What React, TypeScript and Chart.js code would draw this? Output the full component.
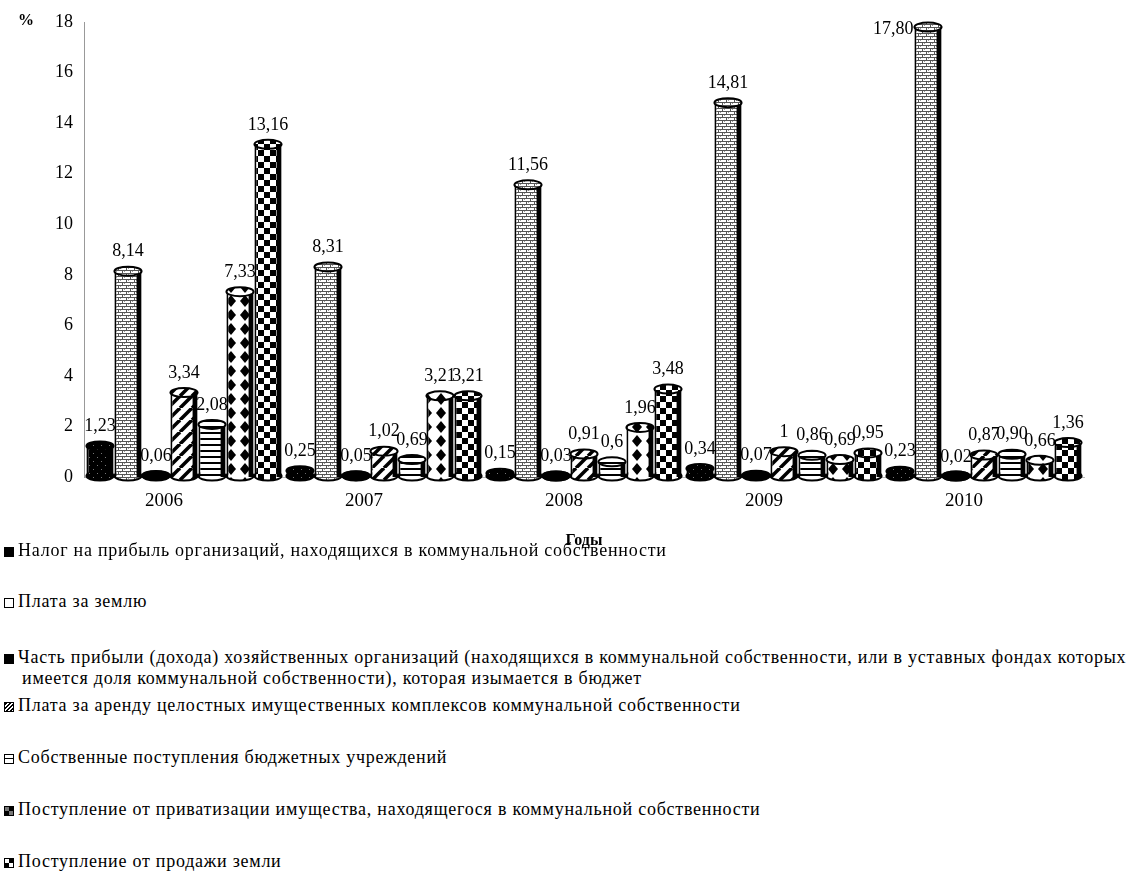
import React, { useEffect, useRef } from "react";
import { Chart, registerables } from "chart.js";

Chart.register(...registerables);

const years = ["2006", "2007", "2008", "2009", "2010"];
const yTicks = [0, 2, 4, 6, 8, 10, 12, 14, 16, 18];

const seriesNames = [
  "Налог на прибыль организаций, находящихся в коммунальной собственности",
  "Плата  за землю",
  "Часть прибыли (дохода) хозяйственных организаций (находящихся в коммунальной собственности, или в уставных фондах которых имеется доля коммунальной собственности), которая изымается в бюджет",
  "Плата за аренду  целостных имущественных комплексов коммунальной собственности",
  "Собственные поступления бюджетных учреждений",
  "Поступление от приватизации имущества, находящегося в коммунальной собственности",
  "Поступление от продажи земли",
];

const profitTax = [1.23, 0.25, 0.15, 0.34, 0.23];
const landFee = [8.14, 8.31, 11.56, 14.81, 17.8];
const profitShare = [0.06, 0.05, 0.03, 0.07, 0.02];
const rentFee = [3.34, 1.02, 0.91, 1, 0.87];
const ownRevenue = [2.08, 0.69, 0.6, 0.86, 0.9];
const privatization = [7.33, 3.21, 1.96, 0.69, 0.66];
const landSale = [13.16, 3.21, 3.48, 0.95, 1.36];

const profitTaxLabels = ["1,23", "0,25", "0,15", "0,34", "0,23"];
const landFeeLabels = ["8,14", "8,31", "11,56", "14,81", "17,80"];
const profitShareLabels = ["0,06", "0,05", "0,03", "0,07", "0,02"];
const rentFeeLabels = ["3,34", "1,02", "0,91", "1", "0,87"];
const ownRevenueLabels = ["2,08", "0,69", "0,6", "0,86", "0,90"];
const privatizationLabels = ["7,33", "3,21", "1,96", "0,69", "0,66"];
const landSaleLabels = ["13,16", "3,21", "3,48", "0,95", "1,36"];

const seriesValues = [profitTax, landFee, profitShare, rentFee, ownRevenue, privatization, landSale];
const seriesLabels = [
  profitTaxLabels,
  landFeeLabels,
  profitShareLabels,
  rentFeeLabels,
  ownRevenueLabels,
  privatizationLabels,
  landSaleLabels,
];

const FONT = "'Liberation Serif', 'Times New Roman', serif";
const CAP_RY = 4.5;

type PatternKind = "dots" | "bricks" | "solid" | "diag" | "hstripes" | "diamonds" | "checker";
const patternKinds: PatternKind[] = ["dots", "bricks", "solid", "diag", "hstripes", "diamonds", "checker"];

function drawPatternTile(kind: PatternKind): HTMLCanvasElement {
  const c = document.createElement("canvas");
  const ctx = c.getContext("2d")!;
  if (kind === "dots") {
    c.width = 8; c.height = 8;
    ctx.fillStyle = "#000"; ctx.fillRect(0, 0, 8, 8);
    ctx.fillStyle = "#777"; ctx.fillRect(1, 1, 1, 1); ctx.fillRect(5, 5, 1, 1);
  } else if (kind === "bricks") {
    c.width = 8; c.height = 6;
    ctx.fillStyle = "#fff"; ctx.fillRect(0, 0, 8, 6);
    ctx.fillStyle = "#555";
    ctx.fillRect(0, 0, 8, 1); ctx.fillRect(0, 3, 8, 1);
    ctx.fillRect(2, 0, 1, 3); ctx.fillRect(6, 3, 1, 3);
    ctx.fillStyle = "#999"; ctx.fillRect(4, 1, 1, 1); ctx.fillRect(0, 4, 1, 1);
  } else if (kind === "solid") {
    c.width = 4; c.height = 4;
    ctx.fillStyle = "#000"; ctx.fillRect(0, 0, 4, 4);
  } else if (kind === "diag") {
    c.width = 12; c.height = 12;
    ctx.fillStyle = "#fff"; ctx.fillRect(0, 0, 12, 12);
    ctx.strokeStyle = "#000"; ctx.lineWidth = 3.5;
    for (let k = -12; k <= 24; k += 12) {
      ctx.beginPath(); ctx.moveTo(k, 12); ctx.lineTo(k + 12, 0); ctx.stroke();
    }
  } else if (kind === "hstripes") {
    c.width = 6; c.height = 6;
    ctx.fillStyle = "#fff"; ctx.fillRect(0, 0, 6, 6);
    ctx.fillStyle = "#000"; ctx.fillRect(0, 0, 6, 2);
  } else if (kind === "diamonds") {
    c.width = 14; c.height = 14;
    ctx.fillStyle = "#fff"; ctx.fillRect(0, 0, 14, 14);
    ctx.fillStyle = "#000";
    ctx.beginPath(); ctx.moveTo(7, 1); ctx.lineTo(12, 7); ctx.lineTo(7, 13); ctx.lineTo(2, 7); ctx.closePath(); ctx.fill();
  } else {
    c.width = 12; c.height = 12;
    ctx.fillStyle = "#fff"; ctx.fillRect(0, 0, 12, 12);
    ctx.fillStyle = "#000"; ctx.fillRect(0, 0, 6, 6); ctx.fillRect(6, 6, 6, 6);
  }
  return c;
}

function ellipse(ctx: CanvasRenderingContext2D, el: any, cy: number, fill: any) {
  ctx.beginPath();
  ctx.ellipse(el.x, cy, el.width / 2, CAP_RY, 0, 0, Math.PI * 2);
  ctx.fillStyle = fill;
  ctx.fill();
  ctx.lineWidth = 2;
  ctx.strokeStyle = "#000";
  ctx.stroke();
}

// cylinder bases (before bars) and tops with side shading (after bars)
const cylinderPlugin = {
  id: "cylinder",
  beforeDatasetsDraw(chart: any) {
    const ctx = chart.ctx as CanvasRenderingContext2D;
    ctx.save();
    chart.data.datasets.forEach((ds: any, di: number) => {
      chart.getDatasetMeta(di).data.forEach((el: any) => {
        ellipse(ctx, el, el.base - 1, ds.backgroundColor);
      });
    });
    ctx.restore();
  },
  afterDatasetsDraw(chart: any) {
    const ctx = chart.ctx as CanvasRenderingContext2D;
    ctx.save();
    chart.data.datasets.forEach((ds: any, di: number) => {
      chart.getDatasetMeta(di).data.forEach((el: any) => {
        const h = el.base - el.y;
        if (h > 8) {
          const right = el.x + el.width / 2;
          ctx.fillStyle = "#000";
          ctx.fillRect(right - 5, el.y, 4, h);
        }
        ellipse(ctx, el, Math.min(el.y, el.base - 1), ds.backgroundColor);
      });
    });
    ctx.restore();
  },
};

const valueLabelPlugin = {
  id: "valueLabels",
  afterDatasetsDraw(chart: any) {
    const ctx = chart.ctx as CanvasRenderingContext2D;
    ctx.save();
    ctx.font = `18px ${FONT}`;
    ctx.fillStyle = "#000";
    chart.data.datasets.forEach((_ds: any, di: number) => {
      const meta = chart.getDatasetMeta(di);
      meta.data.forEach((el: any, i: number) => {
        const txt = seriesLabels[di][i];
        let x = el.x;
        let y = el.y - CAP_RY - 6;
        ctx.textAlign = "center";
        ctx.textBaseline = "bottom";
        if (y - 18 < chart.chartArea.top - 16) {
          ctx.textAlign = "right";
          ctx.textBaseline = "middle";
          x = el.x - el.width / 2 - 1;
          y = el.y + 2;
        }
        ctx.fillText(txt, x, y);
      });
    });
    ctx.restore();
  },
};

function Legend() {
  const swatchStyle = (kind: PatternKind): React.CSSProperties => {
    const base: React.CSSProperties = {
      display: "inline-block",
      width: 10,
      height: 10,
      border: "1.5px solid #000",
      boxSizing: "border-box",
      marginRight: 4,
      verticalAlign: "-1px",
      background: "#fff",
      textIndent: 0,
    };
    if (kind === "dots" || kind === "solid") base.background = "#000";
    if (kind === "diag") base.background = "repeating-linear-gradient(135deg,#000 0 1.5px,#fff 1.5px 3px)";
    if (kind === "hstripes") base.background = "linear-gradient(#fff 0 3px,#000 3px 4.5px,#fff 4.5px)";
    if (kind === "diamonds") base.background = "conic-gradient(#000 0 25%,#777 0 50%,#000 0 75%,#777 0)";
    if (kind === "checker") base.background = "conic-gradient(#000 0 25%,#fff 0 50%,#000 0 75%,#fff 0)";
    return base;
  };
  const tops = [540, 591, 647, 695, 747, 799, 851];
  return (
    <>
      {seriesNames.map((name, i) => (
        <div
          key={i}
          style={{
            position: "absolute",
            left: 4,
            top: tops[i],
            width: 1150,
            paddingLeft: 18,
            textIndent: -18,
            fontFamily: FONT,
            fontSize: 18,
            letterSpacing: "0.75px",
            lineHeight: "21px",
            color: "#000",
            boxSizing: "border-box",
          }}
        >
          <span style={swatchStyle(patternKinds[i])} />
          {name}
        </div>
      ))}
    </>
  );
}

export default function App() {
  const canvasRef = useRef<HTMLCanvasElement | null>(null);

  useEffect(() => {
    const canvas = canvasRef.current!;
    const ctx = canvas.getContext("2d")!;
    const datasets = seriesValues.map((vals, i) => ({
      label: seriesNames[i],
      data: vals,
      backgroundColor: ctx.createPattern(drawPatternTile(patternKinds[i]), "repeat") as any,
      borderColor: "#000",
      borderWidth: 2,
      borderRadius: 0,
      borderSkipped: "bottom",
      categoryPercentage: 0.98,
      barPercentage: 0.97,
    }));
    const chart = new Chart(canvas, {
      type: "bar",
      data: { labels: years, datasets },
      plugins: [cylinderPlugin, valueLabelPlugin],
      options: {
        animation: false,
        responsive: false,
        maintainAspectRatio: false,
        layout: { padding: { left: 0, right: 53, top: 22, bottom: 2 } },
        plugins: {
          legend: { display: false },
          tooltip: { enabled: false },
        },
        scales: {
          x: {
            grid: { display: false, drawTicks: false },
            border: { display: true, color: "#bbb", dash: [1, 3] },
            ticks: {
              color: "#000",
              font: { family: FONT, size: 19 },
              padding: 13,
              labelOffset: -20,
            },
            title: {
              display: true,
              text: "Годы",
              color: "#000",
              font: { family: FONT, size: 16, weight: "bold" },
              padding: { top: 5, bottom: 0 },
            },
          },
          y: {
            min: 0,
            max: 18,
            afterBuildTicks: (axis: any) => {
              axis.ticks = yTicks.map((v) => ({ value: v }));
            },
            afterFit: (axis: any) => {
              axis.width = 84;
            },
            grid: { display: false, drawTicks: false },
            border: { display: true, color: "#999", dash: [1, 2] },
            ticks: {
              color: "#000",
              font: { family: FONT, size: 18 },
              padding: 11,
            },
          },
        },
      },
    });
    return () => chart.destroy();
  }, []);

  return (
    <div style={{ position: "absolute", left: 0, top: 0, width: 1137, height: 888, overflow: "hidden", background: "#fff" }}>
      <canvas ref={canvasRef} width={1137} height={552} style={{ position: "absolute", left: 0, top: 0 }} />
      <div
        style={{
          position: "absolute",
          left: 18,
          top: 11,
          fontFamily: FONT,
          fontSize: 16,
          fontWeight: "bold",
        }}
      >
        %
      </div>
      <Legend />
    </div>
  );
}
